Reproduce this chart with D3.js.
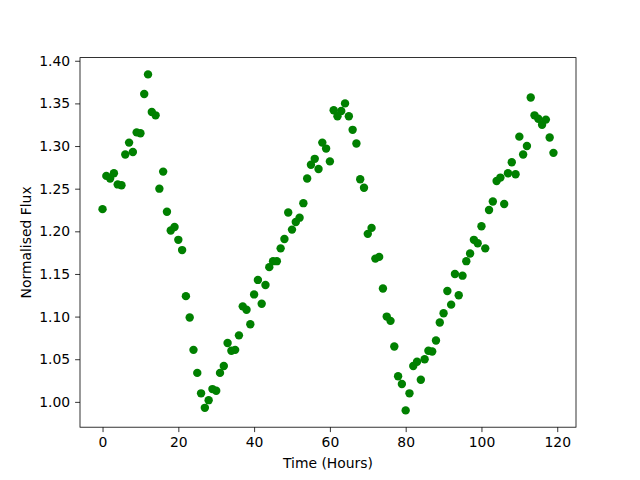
<!DOCTYPE html>
<html lang="en">
  <head>
    <meta charset="utf-8">
    <title>Normalised Flux</title>
    <script src="https://d3js.org/d3.v7.min.js"></script>
    <style>
      body { margin: 0; background: #fff; }
      text { font-family: "DejaVu Sans", sans-serif; }
    </style>
  </head>
  <body>
    <script type="text/javascript">

      var w = 640;
      var h = 480;
      var margin = {top: 57.6, right: 64, bottom: 52.8, left: 80};
      var innerWidth = w - margin.left - margin.right;
      var innerHeight = h - margin.top - margin.bottom;

      // hours 0..119
      var hours = d3.range(0, 120);
      var flux = [
        1.226, 1.265, 1.262, 1.268, 1.255, 1.254, 1.290, 1.304, 1.293, 1.316,
        1.315, 1.361, 1.384, 1.340, 1.336, 1.250, 1.270, 1.223, 1.201, 1.205,
        1.190, 1.178, 1.124, 1.099, 1.061, 1.034, 1.010, 0.993, 1.002, 1.015,
        1.013, 1.034, 1.042, 1.069, 1.060, 1.061, 1.078, 1.112, 1.108, 1.091,
        1.126, 1.143, 1.115, 1.137, 1.158, 1.165, 1.165, 1.180, 1.191, 1.222,
        1.202, 1.211, 1.216, 1.233, 1.262, 1.278, 1.285, 1.273, 1.304, 1.297,
        1.282, 1.342, 1.335, 1.341, 1.350, 1.335, 1.319, 1.303, 1.261, 1.251,
        1.197, 1.204, 1.168, 1.170, 1.133, 1.100, 1.095, 1.065, 1.030, 1.021,
        0.990, 1.010, 1.042, 1.047, 1.026, 1.050, 1.060, 1.059, 1.072, 1.093,
        1.104, 1.130, 1.114, 1.150, 1.125, 1.148, 1.165, 1.174, 1.190, 1.186,
        1.206, 1.180, 1.225, 1.235, 1.259, 1.263, 1.232, 1.268, 1.281, 1.267,
        1.311, 1.290, 1.300, 1.357, 1.336, 1.332, 1.325, 1.331, 1.310, 1.292
      ];
      var xTicks = [0, 20, 40, 60, 80, 100, 120];
      var yTicks = [1.00, 1.05, 1.10, 1.15, 1.20, 1.25, 1.30, 1.35, 1.40];

      var svg = d3.select("body")
          .append("svg")
          .attr("width", w)
          .attr("height", h);

      // matplotlib style 5% padding
      var xmin = d3.min(hours), xmax = d3.max(hours);
      var xpad = (xmax - xmin) * 0.05;
      var ymin = d3.min(flux), ymax = d3.max(flux);
      var ypad = (ymax - ymin) * 0.05;

      var xscale = d3.scaleLinear()
          .domain([xmin - xpad, xmax + xpad])
          .range([0, innerWidth]);

      var yscale = d3.scaleLinear()
          .domain([ymin - ypad, ymax + ypad])
          .range([innerHeight, 0]);

      var g = svg.append("g")
          .attr("transform", "translate(" + margin.left + "," + margin.top + ")");

      var x_axis = d3.axisBottom(xscale)
          .tickValues(xTicks)
          .tickSizeInner(4.9)
          .tickSizeOuter(0)
          .tickPadding(4.9)
          .tickFormat(d3.format("d"));

      var y_axis = d3.axisLeft(yscale)
          .tickValues(yTicks)
          .tickSizeInner(4.9)
          .tickSizeOuter(0)
          .tickPadding(4.9)
          .tickFormat(d3.format(".2f"));

      var gx = g.append("g")
          .attr("transform", "translate(0," + innerHeight + ")")
          .call(x_axis);

      var gy = g.append("g")
          .call(y_axis);

      [gx, gy].forEach(function(a) {
        a.select(".domain").remove();
        a.selectAll(".tick line").attr("stroke", "#000").attr("stroke-width", 0.8);
        a.selectAll(".tick text")
          .attr("fill", "#000")
          .style("font-size", "13.9px")
          .style("font-family", "DejaVu Sans");
      });

      g.selectAll("circle")
        .data(hours)
        .enter()
        .append("circle")
        .attr("cx", d => xscale(d))
        .attr("cy", (d, i) => yscale(flux[i]))
        .attr("r", 4.2)
        .attr("fill", "#008000");

      g.append("rect")
        .attr("width", innerWidth)
        .attr("height", innerHeight)
        .attr("fill", "none")
        .attr("stroke", "#000")
        .attr("stroke-width", 0.8);

      svg.append("text")
        .attr("x", margin.left + innerWidth / 2)
        .attr("y", 468)
        .attr("text-anchor", "middle")
        .style("font-size", "13.9px")
        .text("Time (Hours)");

      svg.append("text")
        .attr("transform", "translate(31," + (margin.top + innerHeight / 2) + ") rotate(-90)")
        .attr("text-anchor", "middle")
        .style("font-size", "13.9px")
        .text("Normalised Flux");

    </script>
  </body>
</html>
